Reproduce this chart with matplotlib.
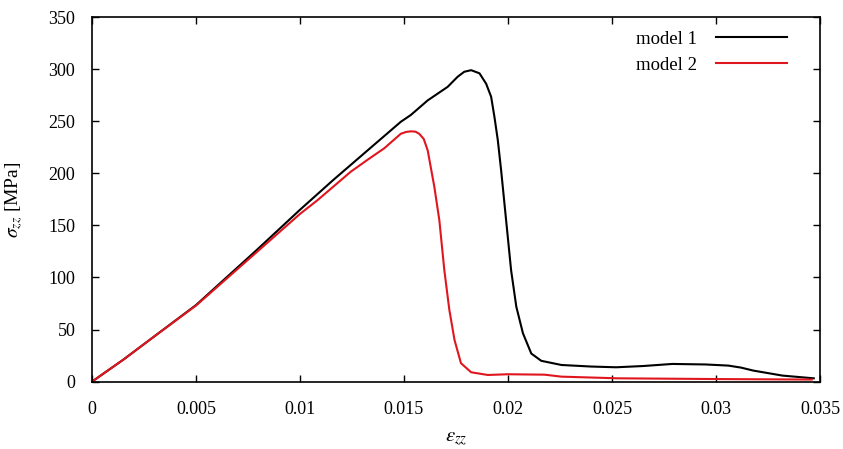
import matplotlib
matplotlib.use('Agg')
import matplotlib.pyplot as plt

plt.rcParams['font.family'] = ['Liberation Serif', 'DejaVu Serif']
plt.rcParams['mathtext.fontset'] = 'stix'

# curva model 1 (preta)
eps_m1 = [0, 0.0015, 0.0031, 0.005, 0.0079, 0.0100, 0.0116, 0.01325, 0.01485,
          0.01533, 0.01614, 0.0171, 0.01758, 0.0179, 0.01823, 0.01863, 0.01895,
          0.01919, 0.01935, 0.01951, 0.01967, 0.01991, 0.02015, 0.0204, 0.02072,
          0.02112, 0.0216, 0.02257, 0.0240, 0.0252, 0.0265, 0.0279, 0.0295,
          0.0306, 0.0312, 0.0318, 0.0332, 0.0347]
sig_m1 = [0, 21, 45, 73.5, 126, 165, 193.6, 222, 249.5, 256, 270, 283, 292.7,
          297.5, 299, 296, 286, 273.5, 254, 232, 203, 155, 107, 72, 46.4, 27, 20,
          16, 14.5, 13.8, 15, 17, 16.5, 15.4, 13.5, 10.6, 5.8, 3.2]

# curva model 2 (vermelha)
eps_m2 = [0, 0.0015, 0.0031, 0.005, 0.0079, 0.0100, 0.01083, 0.01244, 0.01325,
          0.01405, 0.01485, 0.0151, 0.01533, 0.01555, 0.01573, 0.01595, 0.01614,
          0.01646, 0.0167, 0.01694, 0.01718, 0.01743, 0.01774, 0.01823, 0.01903,
          0.01999, 0.02176, 0.02257, 0.0253, 0.0300, 0.0346]
sig_m2 = [0, 21, 45, 73, 124, 161, 174, 201.5, 213, 224, 238, 239.7, 240.3,
          240, 238, 233, 222, 187, 155, 107, 69, 40, 17.7, 9, 6.4, 7.1, 6.7,
          4.8, 3.2, 2.5, 2]

xticks = [0, 0.005, 0.01, 0.015, 0.02, 0.025, 0.03, 0.035]
xlabels = ['0', '0.005', '0.01', '0.015', '0.02', '0.025', '0.03', '0.035']
yticks = [0, 50, 100, 150, 200, 250, 300, 350]

fig = plt.figure(figsize=(8.43, 4.49), dpi=100)
ax = fig.add_axes([0.1091, 0.150, 0.8636, 0.812])

ax.plot(eps_m1, sig_m1, color='black', lw=1.5, label='model 1')
ax.plot(eps_m2, sig_m2, color='#e0161e', lw=1.5, label='model 2')

ax.set_xlim(0, 0.035)
ax.set_ylim(0, 350)
ax.set_xticks(xticks)
ax.set_xticklabels(xlabels)
ax.set_yticks(yticks)
ax.tick_params(direction='in', top=True, right=True, length=5, width=1, labelsize=13)
ax.tick_params(axis='x', pad=14)
ax.tick_params(axis='y', pad=12)
for s in ax.spines.values():
    s.set_linewidth(1.2)

ax.set_xlabel(r'$\varepsilon_{zz}$', fontsize=15, labelpad=8)
ax.set_ylabel(r'$\sigma_{zz}$ [MPa]', fontsize=14, labelpad=17)

ax.legend(loc='upper right', bbox_to_anchor=(0.955, 0.962), frameon=False,
          markerfirst=False, handlelength=3.8, fontsize=13.5, borderpad=0,
          borderaxespad=0, labelspacing=0.45, handletextpad=1.0)

fig.savefig('out.png', dpi=100)
